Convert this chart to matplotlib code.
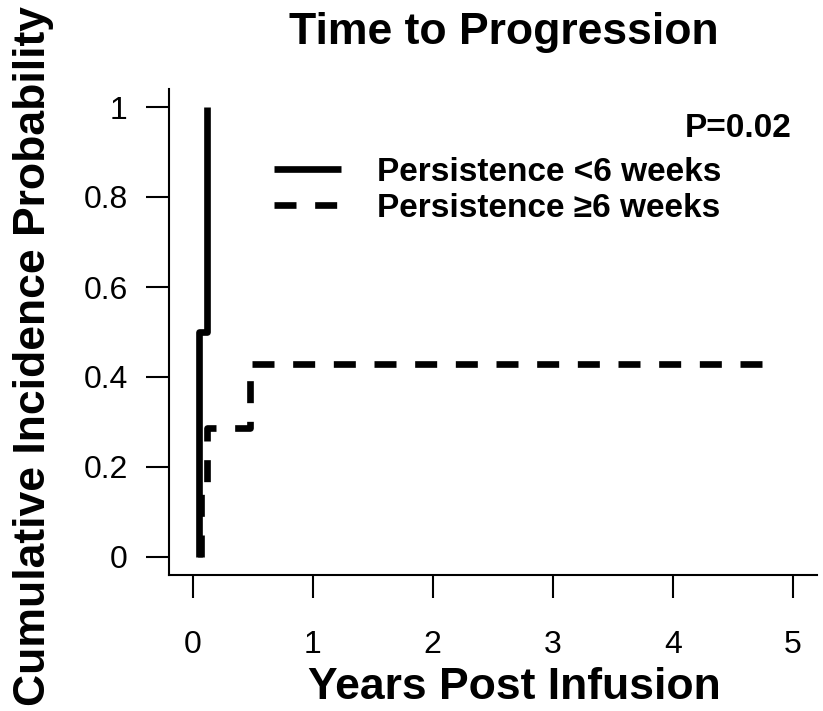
import numpy as np
import matplotlib
matplotlib.use("Agg")
import matplotlib.pyplot as plt

plt.rcParams['font.family'] = ['Liberation Sans', 'DejaVu Sans']

# cumulative incidence of progression (years post infusion)
lt6_times = [0.05, 0.115]
lt6_ci = [0.5, 1.0]

ge6_times = [0.07, 0.115, 0.48]
ge6_ci = [0.143, 0.286, 0.429]
ge6_last_followup = 4.77

x_ticks = [0, 1, 2, 3, 4, 5]
y_ticks = [0, 0.2, 0.4, 0.6, 0.8, 1]
y_ticklabels = ['0', '0.2', '0.4', '0.6', '0.8', '1']

labels = ['Persistence <6 weeks', 'Persistence \u22656 weeks']
p_text = 'P=0.02'

W, H = 823, 711
fig = plt.figure(figsize=(W / 100, H / 100), dpi=100)
ax = fig.add_axes([168.7 / W, 1 - 575 / H, 648 / W, 486 / H])

lw = 4.8
x1 = [lt6_times[0]] + lt6_times
y1 = [0] + lt6_ci
ax.step(x1, y1, where='post', color='black', lw=lw, solid_capstyle='butt',
        label=labels[0])

x2 = [ge6_times[0]] + ge6_times + [ge6_last_followup]
y2 = [0] + ge6_ci + [ge6_ci[-1]]
ax.step(x2, y2, where='post', color='black', lw=lw, dashes=(3.3, 2.8),
        dash_capstyle='butt', label=labels[1])

ax.set_xlim(-0.2, 5.2)
ax.set_ylim(-0.04, 1.04)
ax.set_xticks(x_ticks)
ax.set_yticks(y_ticks)
ax.set_yticklabels(y_ticklabels)

for s in ['top', 'right']:
    ax.spines[s].set_visible(False)
for s in ['left', 'bottom']:
    ax.spines[s].set_linewidth(1.5)

ax.tick_params(axis='both', length=16.5, width=1.5, labelsize=23)
ax.tick_params(axis='y', pad=13)
ax.tick_params(axis='x', pad=23)

ax.set_xlabel('Years Post Infusion', fontsize=32, fontweight='bold')
ax.xaxis.set_label_coords(0.534, -0.19)
ax.set_ylabel('Cumulative Incidence Probability', fontsize=32, fontweight='bold')
ax.yaxis.set_label_coords(-0.177, 0.45)
ax.set_title('Time to Progression', fontsize=32, fontweight='bold', x=0.517, y=1.075)

ax.text(4.99, 0.953, p_text, ha='right', va='center', fontsize=24, fontweight='bold')

leg = ax.legend(loc='upper left', bbox_to_anchor=(274 / W, 1 - 157 / H),
                bbox_transform=fig.transFigure, frameon=False, fontsize=24,
                handlelength=2.0, handletextpad=1.08, labelspacing=0.15,
                borderpad=0, borderaxespad=0)
for t in leg.get_texts():
    t.set_fontweight('bold')

fig.savefig('out.png', dpi=100)
